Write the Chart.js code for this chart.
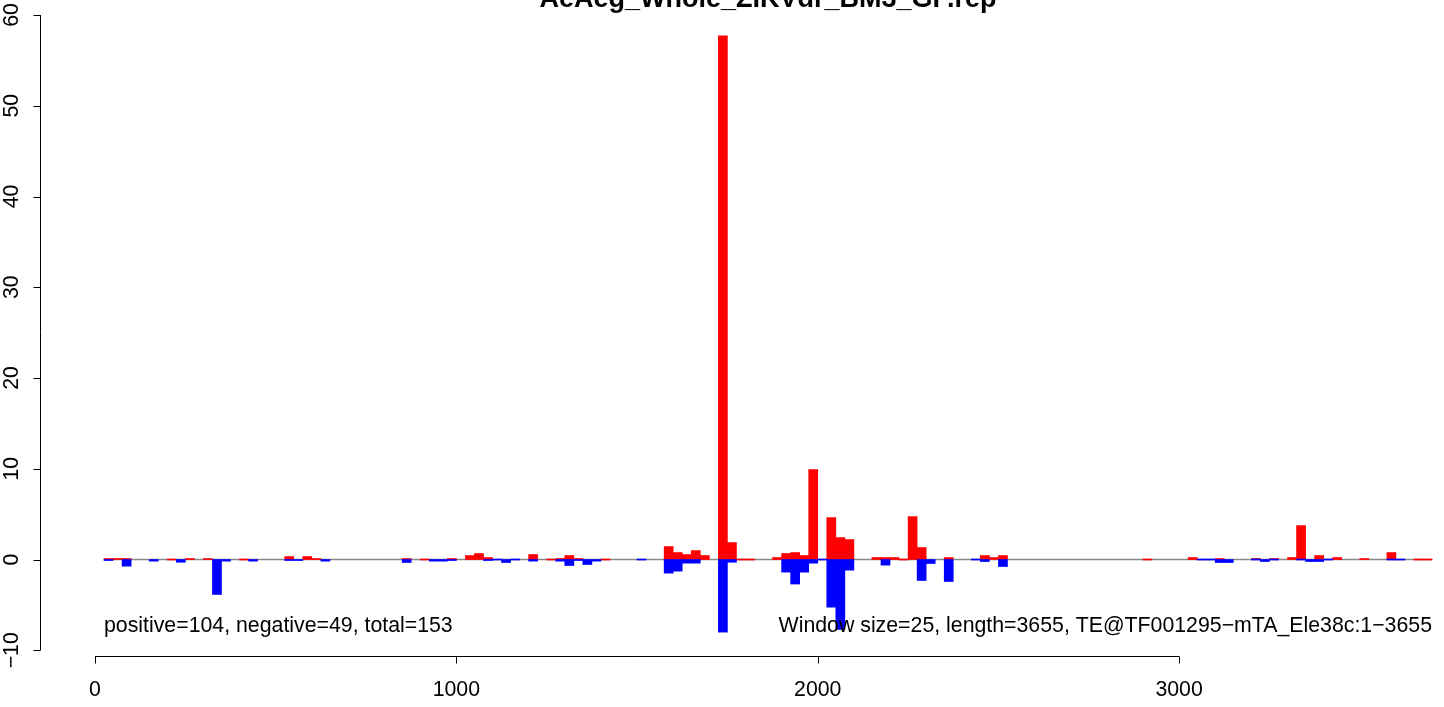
<!DOCTYPE html>
<html>
<head>
<meta charset="utf-8">
<script src="https://cdn.jsdelivr.net/npm/chart.js@4/dist/chart.umd.min.js"></script>
<style>
  html, body { margin: 0; padding: 0; background: #fff; }
  #wrap { width: 1444px; height: 707px; position: relative; }
</style>
</head>
<body>
<div id="wrap"><canvas id="c"></canvas></div>
<script>
'use strict';

// --- data (one value per 25-bp window) ---
const windowSize = 25;
const titleText = 'AeAeg_Whole_ZIKVdr_BM3_GP.rep';
const leftNote = 'positive=104, negative=49, total=153';
const rightNote = 'Window size=25, length=3655, TE@TF001295\u2212mTA_Ele38c:1\u22123655';
const xTicks = [0, 1000, 2000, 3000];
const yTicks = [-10, 0, 10, 20, 30, 40, 50, 60];

// positive (sense) counts per window, null = nothing drawn
const posVals = [
  null, 0.1, 0.1, 0.1, null, null, null, null, 0, null,
  0.1, null, 0.1, null, null, null, 0, null, null, null,
  null, 0.33, null, 0.33, 0.1, null, null, null, null, null,
  null, null, null, null, 0.1, null, 0, null, null, 0.1,
  null, 0.44, 0.66, 0.22, null, null, null, null, 0.55, null,
  0, 0.1, 0.44, 0.1, null, null, 0, null, null, null,
  null, null, null, 1.43, 0.77, 0.55, 0.99, 0.44, null, 57.7,
  1.87, 0, 0, null, null, 0.22, 0.66, 0.77, 0.44, 9.9,
  null, 4.62, 2.42, 2.2, null, null, 0.22, 0.22, 0.22, 0,
  4.73, 1.32, null, null, 0.22, null, null, null, 0.44, 0.22,
  0.44, null, null, null, null, null, null, null, null, null,
  null, null, null, null, null, null, 0, null, null, null,
  null, 0.22, null, null, 0.11, null, null, null, 0.11, null,
  0.11, null, 0.22, 3.74, null, 0.44, null, 0.22, null, null,
  0.11, null, null, 0.77, null, null, 0, 0
];

// negative (antisense) counts per window, null = nothing drawn
const negVals = [
  null, -0.1, null, -0.73, null, null, -0.18, null, null, -0.3,
  null, null, null, -3.85, -0.18, null, null, -0.18, null, null,
  null, -0.07, -0.07, null, null, -0.18, null, null, null, null,
  null, null, null, null, -0.33, null, null, -0.18, -0.18, -0.05,
  null, null, null, -0.05, 0, -0.33, 0, null, -0.18, null,
  null, -0.18, -0.66, -0.05, -0.55, -0.18, null, null, null, null,
  0, null, null, -1.5, -1.28, -0.4, -0.4, null, null, -8.0,
  -0.3, null, null, null, null, null, -1.39, -2.7, -1.39, -0.4,
  0, -5.25, -7.7, -1.17, null, null, null, -0.62, null, null,
  null, -2.31, -0.44, null, -2.42, null, null, 0, -0.22, null,
  -0.77, null, null, null, null, null, null, null, null, null,
  null, null, null, null, null, null, null, null, null, null,
  null, null, 0, 0, -0.33, -0.33, null, null, 0, -0.22,
  0, null, null, 0, -0.22, -0.22, 0, null, null, null,
  null, null, null, 0, 0, null, null, null
];

const FONT = "'Liberation Sans', Arial, Helvetica, sans-serif";

function pts(vals){
  return vals.map((v, i) => ({ x: i * windowSize + windowSize / 2, y: v }));
}

// R-style axes, zero line and text, drawn from the chart's own scales
const rDecor = {
  id: 'rDecor',
  beforeDatasetsDraw(chart){
    const { ctx, scales: { x, y } } = chart;
    ctx.save();
    ctx.strokeStyle = '#888888';
    ctx.lineWidth = 1.5;
    ctx.beginPath();
    ctx.moveTo(x.getPixelForValue(windowSize), y.getPixelForValue(0));
    ctx.lineTo(x.getPixelForValue(posVals.length * windowSize), y.getPixelForValue(0));
    ctx.stroke();
    ctx.restore();
  },
  afterDraw(chart){
    const { ctx, chartArea: a, scales: { x, y } } = chart;
    ctx.save();
    ctx.strokeStyle = '#000';
    ctx.fillStyle = '#000';
    ctx.lineWidth = 1;

    // y axis
    const yl = Math.round(a.left) + 0.5;
    ctx.beginPath();
    ctx.moveTo(yl, y.getPixelForValue(yTicks[0]));
    ctx.lineTo(yl, y.getPixelForValue(yTicks[yTicks.length - 1]));
    yTicks.forEach(t => {
      const py = Math.round(y.getPixelForValue(t)) + 0.5;
      ctx.moveTo(yl, py); ctx.lineTo(yl - 7, py);
    });
    ctx.stroke();
    ctx.font = '21.3px ' + FONT;
    ctx.textAlign = 'center';
    ctx.textBaseline = 'middle';
    yTicks.forEach(t => {
      ctx.save();
      ctx.translate(12, y.getPixelForValue(t));
      ctx.rotate(-Math.PI / 2);
      ctx.fillText(t < 0 ? '\u2212' + Math.abs(t) : String(t), 0, 0);
      ctx.restore();
    });

    // x axis
    const xl = Math.round(a.bottom) + 0.5;
    ctx.beginPath();
    ctx.moveTo(x.getPixelForValue(xTicks[0]), xl);
    ctx.lineTo(x.getPixelForValue(xTicks[xTicks.length - 1]), xl);
    xTicks.forEach(t => {
      const px = Math.round(x.getPixelForValue(t)) + 0.5;
      ctx.moveTo(px, xl); ctx.lineTo(px, xl + 7);
    });
    ctx.stroke();
    xTicks.forEach(t => ctx.fillText(String(t), x.getPixelForValue(t), 690));

    // notes
    ctx.textAlign = 'left';
    ctx.fillText(leftNote, 104, 626);
    ctx.textAlign = 'right';
    ctx.fillText(rightNote, 1432, 626);

    // title (cut by the top edge, as in the original)
    ctx.font = 'bold 27px ' + FONT;
    ctx.textAlign = 'center';
    ctx.textBaseline = 'alphabetic';
    ctx.fillText(titleText, 768, 7);
    ctx.restore();
  }
};

new Chart(document.getElementById('c'), {
  type: 'bar',
  data: {
    datasets: [
      { label: 'negative', data: pts(negVals), backgroundColor: '#0000ff', borderWidth: 0, minBarLength: 1 },
      { label: 'positive', data: pts(posVals), backgroundColor: '#ff0000', borderWidth: 0, minBarLength: 1 }
    ]
  },
  options: {
    responsive: true, maintainAspectRatio: false, animation: false,
    layout: { padding: { left: 40, right: 0, top: 12, bottom: 51 } },
    datasets: { bar: { grouped: false, barPercentage: 1, categoryPercentage: 1 } },
    plugins: { legend: { display: false }, tooltip: { enabled: false } },
    scales: {
      x: { type: 'linear', display: false, offset: false, min: -152.2, max: 3733 },
      y: { display: false, min: -10.63, max: 60.33 }
    }
  },
  plugins: [rDecor]
});
</script>
</body>
</html>
